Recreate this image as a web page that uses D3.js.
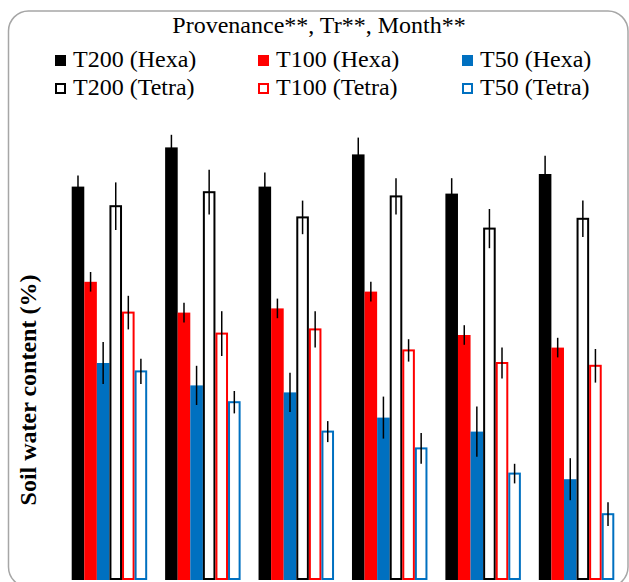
<!DOCTYPE html>
<html>
<head>
<meta charset="utf-8">
<script src="https://cdn.jsdelivr.net/npm/d3@7"></script>
<style>
  body { margin: 0; background: #fff; }
</style>
</head>
<body>
<div id="chart"></div>
<script>

// Groups along x (no labels shown on the chart)
const groups = ["G1", "G2", "G3", "G4", "G5", "G6"];

// Series
const series = ["T200 (Hexa)", "T100 (Hexa)", "T50 (Hexa)", "T200 (Tetra)", "T100 (Tetra)", "T50 (Tetra)"];

// Soil water content (%), one array per series, one value per group
const t200Hexa  = [28.1, 30.9, 28.1, 30.4, 27.6, 29.0];
const t100Hexa  = [21.3, 19.1, 19.4, 20.6, 17.5, 16.6];
const t50Hexa   = [15.5, 13.9, 13.4, 11.6, 10.6, 7.2];
const t200Tetra = [26.7, 27.7, 25.9, 27.4, 25.1, 25.8];
const t100Tetra = [19.1, 17.6, 17.9, 16.4, 15.5, 15.3];
const t50Tetra  = [14.9, 12.7, 10.6, 9.4, 7.6, 4.7];

// Standard errors
const t200HexaErr  = [0.8, 0.9, 1.0, 1.2, 1.1, 1.3];
const t100HexaErr  = [0.7, 0.7, 0.7, 0.7, 0.7, 0.7];
const t50HexaErr   = [1.5, 1.4, 1.4, 1.5, 1.8, 1.5];
const t200TetraErr = [1.7, 1.6, 1.2, 1.3, 1.4, 1.3];
const t100TetraErr = [1.2, 1.6, 1.3, 0.8, 1.1, 1.2];
const t50TetraErr  = [0.9, 0.8, 0.75, 1.1, 0.7, 0.85];

const values = [t200Hexa, t100Hexa, t50Hexa, t200Tetra, t100Tetra, t50Tetra];
const errors = [t200HexaErr, t100HexaErr, t50HexaErr, t200TetraErr, t100TetraErr, t50TetraErr];

// Styles
const colors = ["#000000", "#ff0000", "#0070c0", "#000000", "#ff0000", "#0070c0"];
const filled = [true, true, true, false, false, false];
const serif = "'Liberation Serif', Tinos, 'Times New Roman', Times, 'DejaVu Serif', serif";

const width = 629, height = 582;

let svg = d3.select("#chart")
    .append("svg")
    .attr("width", width)
    .attr("height", height)
    .attr("font-family", serif);

// Rounded frame
svg.append("rect")
    .attr("x", 8.5)
    .attr("y", 11)
    .attr("width", 619.5)
    .attr("height", 576)
    .attr("rx", 20)
    .attr("fill", "none")
    .attr("stroke", "#a6a6a6")
    .attr("stroke-width", 1.5);

// Scales
let x0 = d3.scaleBand()
    .domain(groups)
    .range([71.7, 614.3])
    .paddingInner(0.192);

let x1 = d3.scaleBand()
    .domain(series)
    .range([0, x0.bandwidth()]);

let y = d3.scaleLinear()
    .domain([0, 35])
    .range([580, 90]);

// Flatten to one record per bar
let bars = [];
groups.forEach((g, gi) => {
    series.forEach((s, si) => {
        bars.push({ group: g, series: s, si: si, value: values[si][gi], err: errors[si][gi] });
    });
});

let plot = svg.append("g");

// Filled bars
plot.selectAll("rect.filled")
    .data(bars.filter(d => filled[d.si]))
    .enter()
    .append("rect")
    .attr("class", "filled")
    .attr("x", d => x0(d.group) + x1(d.series))
    .attr("y", d => y(d.value))
    .attr("width", x1.bandwidth())
    .attr("height", d => y(0) - y(d.value))
    .attr("fill", d => colors[d.si]);

// Outlined bars
plot.selectAll("rect.hollow")
    .data(bars.filter(d => !filled[d.si]))
    .enter()
    .append("rect")
    .attr("class", "hollow")
    .attr("x", d => x0(d.group) + x1(d.series) + 1)
    .attr("y", d => y(d.value))
    .attr("width", x1.bandwidth() - 2)
    .attr("height", d => y(0) - y(d.value) - 1)
    .attr("fill", "#fff")
    .attr("stroke", d => colors[d.si])
    .attr("stroke-width", 2);

// Error bars
plot.selectAll("line.err")
    .data(bars)
    .enter()
    .append("line")
    .attr("class", "err")
    .attr("x1", d => x0(d.group) + x1(d.series) + x1.bandwidth() / 2)
    .attr("x2", d => x0(d.group) + x1(d.series) + x1.bandwidth() / 2)
    .attr("y1", d => y(d.value + d.err))
    .attr("y2", d => y(d.value - d.err))
    .attr("stroke", "#000")
    .attr("stroke-width", 1.5);

// Title
svg.append("text")
    .attr("x", 319)
    .attr("y", 33)
    .attr("text-anchor", "middle")
    .attr("font-size", 24)
    .text("Provenance**, Tr**, Month**");

// Legend
const legendCols = [55, 258, 462];
const legendRows = [67, 95];

let legend = svg.selectAll("g.legend")
    .data(series)
    .enter()
    .append("g")
    .attr("class", "legend")
    .attr("transform", (d, i) => `translate(${legendCols[i % 3]},${legendRows[Math.floor(i / 3)]})`);

legend.append("rect")
    .attr("x", (d, i) => filled[i] ? 0 : 1)
    .attr("y", (d, i) => filled[i] ? -12 : -11)
    .attr("width", (d, i) => filled[i] ? 11 : 9)
    .attr("height", (d, i) => filled[i] ? 11 : 9)
    .attr("fill", (d, i) => filled[i] ? colors[i] : "#fff")
    .attr("stroke", (d, i) => filled[i] ? "none" : colors[i])
    .attr("stroke-width", 2);

legend.append("text")
    .attr("x", 18)
    .attr("y", 0)
    .attr("font-size", 24)
    .text(d => d);

// Y axis title
svg.append("text")
    .attr("transform", "translate(36,390) rotate(-90)")
    .attr("text-anchor", "middle")
    .attr("font-size", 24)
    .attr("font-weight", "bold")
    .text("Soil water content (%)");

</script>
</body>
</html>
